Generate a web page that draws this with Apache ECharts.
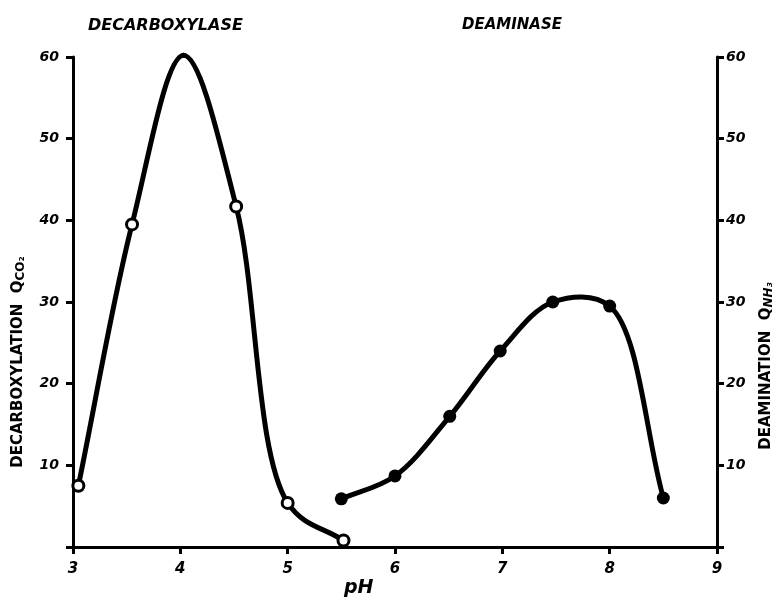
<!DOCTYPE html>
<html><head><meta charset="utf-8">
<script src="https://cdn.jsdelivr.net/npm/echarts@6/dist/echarts.min.js"></script>
<style>html,body{margin:0;padding:0;background:#fff}#c{width:784px;height:602px}</style>
</head><body><div id="c"></div>
<script>
// Data
const decarbPH = [3.05, 3.55, 4.03, 4.52, 5.0, 5.52];
const decarbQ  = [7.5, 39.5, 60.2, 41.7, 5.4, 0.8];
const deaminPH = [5.5, 6.0, 6.51, 6.98, 7.47, 8.0, 8.5];
const deaminQ  = [5.9, 8.7, 16.0, 24.0, 30.0, 29.5, 6.0];
const xTicks = [3, 4, 5, 6, 7, 8, 9];
const yTicks = [10, 20, 30, 40, 50, 60];
const titles = ['DECARBOXYLASE', 'DEAMINASE'];
const xName = 'pH';

const FONT = 'DejaVu Sans';
const lab = {fontFamily: FONT, fontWeight: 'bold', fontStyle: 'italic', color: '#000'};
const chart = echarts.init(document.getElementById('c'));
const yLabFmt = v => (yTicks.indexOf(v) >= 0 ? String(v) : '');

// centripetal Catmull-Rom curve through the data points, positioned by the axes
function curve(xs, ys, axisIdx) {
  return {
    type: 'custom', coordinateSystem: 'cartesian2d', yAxisIndex: axisIdx, silent: true,
    data: xs.map((x, i) => [x, ys[i]]),
    renderItem: function (params, api) {
      const i = params.dataIndex, n = xs.length;
      if (i >= n - 1) return null;
      const P = j => api.coord([xs[j], ys[j]]);
      const p1 = P(i), p2 = P(i + 1);
      const p0 = i > 0 ? P(i - 1) : [2 * p1[0] - p2[0], 2 * p1[1] - p2[1]];
      const p3 = i + 2 < n ? P(i + 2) : [2 * p2[0] - p1[0], 2 * p2[1] - p1[1]];
      const dist = (a, b) => Math.hypot(b[0] - a[0], b[1] - a[1]);
      const D1 = dist(p0, p1), D2 = dist(p1, p2), D3 = dist(p2, p3);
      const d1 = Math.sqrt(D1), d2 = Math.sqrt(D2), d3 = Math.sqrt(D3);
      const c1 = 2 * D1 + 3 * d1 * d2 + D2, n1 = 3 * d1 * (d1 + d2);
      const c2 = 2 * D3 + 3 * d3 * d2 + D2, n2 = 3 * d3 * (d3 + d2);
      const b1 = [0, 1].map(k => (D1 * p2[k] - D2 * p0[k] + c1 * p1[k]) / n1);
      const b2 = [0, 1].map(k => (D3 * p1[k] - D2 * p3[k] + c2 * p2[k]) / n2);
      return {
        type: 'bezierCurve',
        shape: {x1: p1[0], y1: p1[1], x2: p2[0], y2: p2[1],
                cpx1: b1[0], cpy1: b1[1], cpx2: b2[0], cpy2: b2[1]},
        style: {stroke: '#000', lineWidth: 5, fill: null, lineCap: 'round'}
      };
    }
  };
}

chart.setOption({
  animation: false,
  backgroundColor: '#fff',
  grid: {left: 73, right: 67, top: 57, bottom: 55},
  xAxis: {
    type: 'value', min: 3, max: 9, interval: 1,
    axisLine: {lineStyle: {color: '#000', width: 3}},
    axisTick: {show: true, length: 7, lineStyle: {color: '#000', width: 3}},
    axisLabel: Object.assign({fontSize: 15, margin: 15, formatter: v => (xTicks.indexOf(v) >= 0 ? String(v) : '')}, lab),
    splitLine: {show: false}
  },
  yAxis: [{
    type: 'value', min: 0, max: 60, interval: 10, position: 'left',
    axisLine: {show: true, lineStyle: {color: '#000', width: 3}},
    axisTick: {show: true, length: 7, lineStyle: {color: '#000', width: 3}},
    axisLabel: Object.assign({fontSize: 14, margin: 14, formatter: yLabFmt}, lab),
    splitLine: {show: false}
  }, {
    type: 'value', min: 0, max: 60, interval: 10, position: 'right',
    axisLine: {show: true, lineStyle: {color: '#000', width: 3}},
    axisTick: {show: true, length: 7, lineStyle: {color: '#000', width: 3}},
    axisLabel: Object.assign({fontSize: 14, margin: 9, formatter: yLabFmt}, lab),
    splitLine: {show: false}
  }],
  series: [
    curve(decarbPH, decarbQ, 0),
    curve(deaminPH, deaminQ, 1),
    {
      type: 'scatter', yAxisIndex: 0, z: 5,
      data: decarbPH.map((x, i) => [x, decarbQ[i]]),
      symbol: 'circle', symbolSize: 11,
      itemStyle: {color: '#fff', borderColor: '#000', borderWidth: 3, opacity: 1}
    }, {
      type: 'scatter', yAxisIndex: 1, z: 5,
      data: deaminPH.map((x, i) => [x, deaminQ[i]]),
      symbol: 'circle', symbolSize: 13,
      itemStyle: {color: '#000', opacity: 1}
    }
  ],
  graphic: [
    {type: 'text', left: 88, top: 18, style: {text: titles[0], font: 'italic bold 16px "' + FONT + '"', fill: '#000'}},
    {type: 'text', left: 462, top: 18, style: {text: titles[1], font: 'italic bold 15px "' + FONT + '"', fill: '#000'}},
    {type: 'text', left: 344, top: 579, style: {text: xName, font: 'italic bold 19px "' + FONT + '"', fill: '#000'}},
    {type: 'text', x: 18, y: 362, rotation: Math.PI / 2,
      style: {text: '{a|DECARBOXYLATION  Q}{s|CO₂}', align: 'center', verticalAlign: 'middle',
        rich: {a: {font: 'bold 15px "' + FONT + '"', color: '#000'},
               s: {font: 'bold 12px "' + FONT + '"', color: '#000', padding: [6, 0, 0, 0]}}}},
    {type: 'text', x: 766, y: 366, rotation: Math.PI / 2,
      style: {text: '{a|DEAMINATION  Q}{s|NH₃}', align: 'center', verticalAlign: 'middle',
        rich: {a: {font: 'bold 15px "' + FONT + '"', color: '#000'},
               s: {font: 'italic bold 12px "' + FONT + '"', color: '#000', padding: [6, 0, 0, 0]}}}}
  ]
});
</script></body></html>
